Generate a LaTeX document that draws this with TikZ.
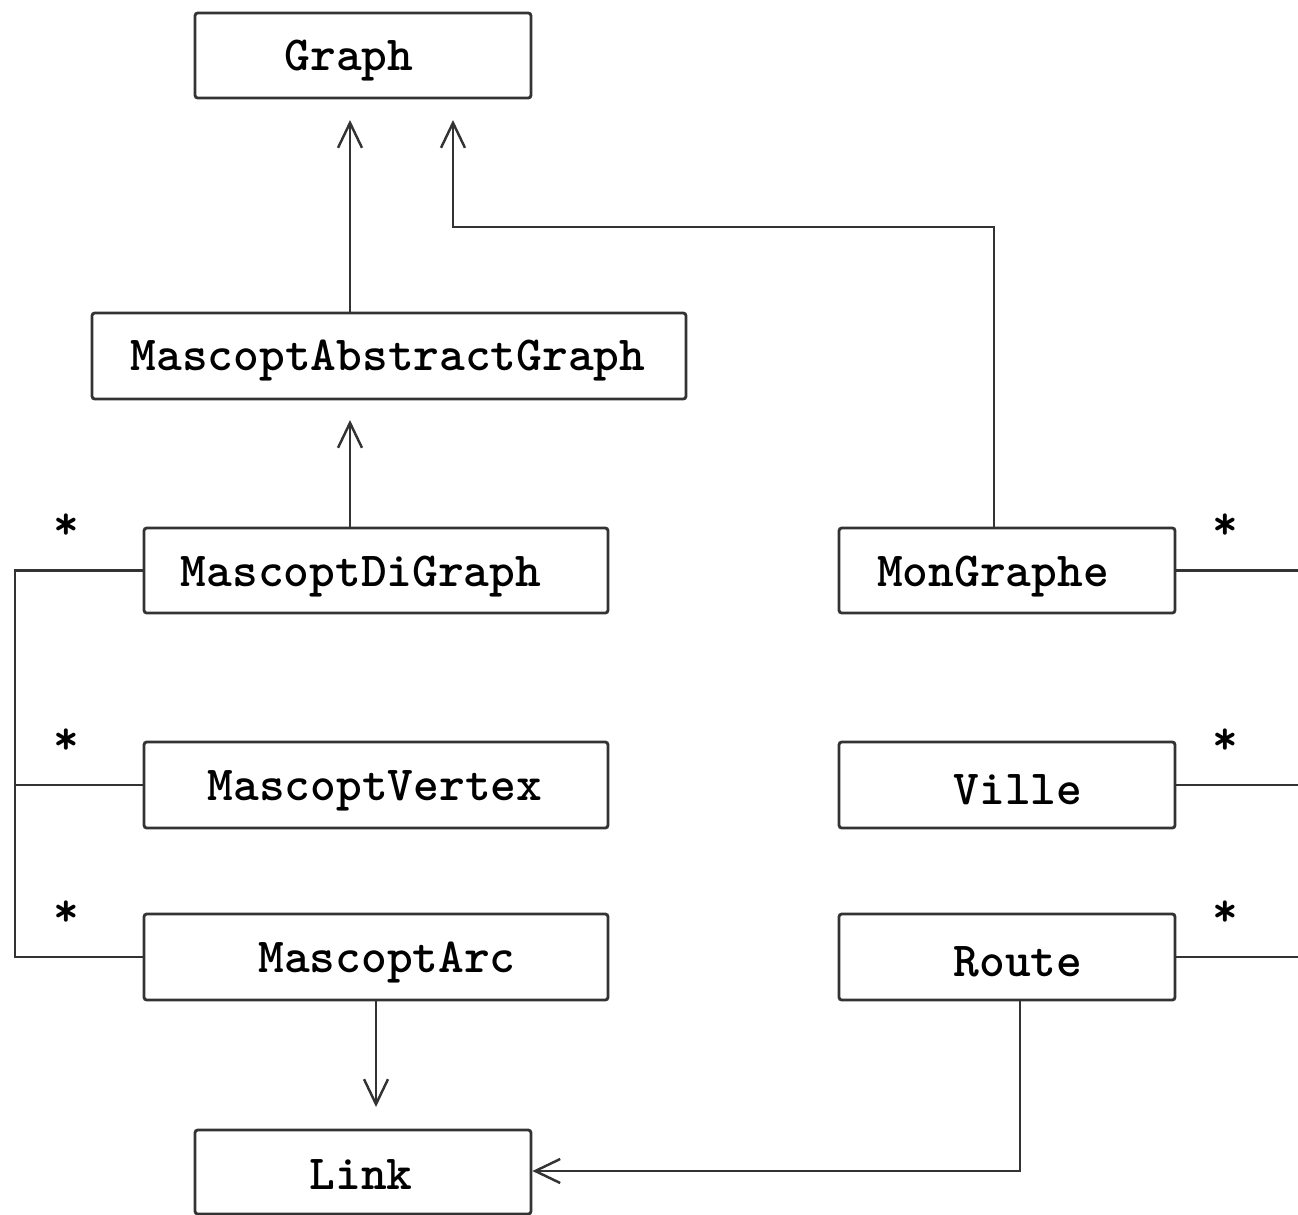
\documentclass[tikz,border=0pt]{standalone}
\usepackage{fontspec}
\usetikzlibrary{arrows.meta}
\begin{document}
\begin{tikzpicture}[x=0.02cm,y=-0.02cm,
  box/.style={draw=black!80, line width=1.6pt, rounded corners=1.5pt, inner sep=0pt, fill=white},
  lbl/.style={font=\fontsize{27.9}{32}\selectfont\ttfamily\bfseries, inner sep=0pt},
  star/.style={font=\fontsize{27.9}{32}\selectfont\ttfamily\bfseries, inner sep=0pt},
  conn/.style={draw=black!80, line width=1.4pt},
  arr/.style={conn, -{Straight Barb[length=0.5cm, width=0.48cm, line width=1.4pt]}}]
\useasboundingbox (0,0) rectangle (1298,1214);
% boxes
\node[box, minimum width=6.72cm, minimum height=1.70cm] (graph) at (363,55.5) {};
\node[box, minimum width=11.88cm, minimum height=1.72cm] (mag) at (389,356) {};
\node[box, minimum width=9.28cm, minimum height=1.70cm] (dig) at (376,570.5) {};
\node[box, minimum width=9.28cm, minimum height=1.72cm] (vert) at (376,785) {};
\node[box, minimum width=9.28cm, minimum height=1.72cm] (arc) at (376,957) {};
\node[box, minimum width=6.72cm, minimum height=1.70cm] (mon) at (1007,570.5) {};
\node[box, minimum width=6.72cm, minimum height=1.72cm] (ville) at (1007,785) {};
\node[box, minimum width=6.72cm, minimum height=1.72cm] (route) at (1007,957) {};
\node[box, minimum width=6.72cm, minimum height=1.68cm] (link) at (363,1172) {};
% labels
\node[lbl] (graphT) at (349,61) {Graph};
\node[lbl] (magT) at (388,361) {MascoptAbstractGraph};
\node[lbl] (digT) at (361,577) {MascoptDiGraph};
\node[lbl] (vertT) at (375,791) {MascoptVertex};
\node[lbl] (arcT) at (387,963) {MascoptArc};
\node[lbl] (monT) at (993,577) {MonGraphe};
\node[lbl] (villeT) at (1018,790) {Ville};
\node[lbl] (routeT) at (1018,962) {Route};
\node[lbl] (linkT) at (361,1175) {Link};
% stars
\node[star] (s1) at (66,527) {*};
\node[star] (s2) at (66,742) {*};
\node[star] (s3) at (66,914) {*};
\node[star] (s4) at (1225,527) {*};
\node[star] (s5) at (1225,742) {*};
\node[star] (s6) at (1225,914) {*};
% inheritance arrows
\coordinate (g1) at (350,120);
\draw[arr] (g1 |- mag.north) -- (g1);
\coordinate (g2) at (453,120);
\coordinate (m1) at (994,227);
\draw[arr] (m1 |- mon.north) -- (m1) -| (g2);
\coordinate (a1) at (350,420);
\draw[arr] (a1 |- dig.north) -- (a1);
% arc -> link
\coordinate (l1) at (376,1107);
\draw[arr] (arc.south) -- (l1);
% route -> link
\coordinate (r1) at (1020,1171);
\draw[arr] (r1 |- route.south) -- (r1) -- (link.east |- r1);
% left bus
\coordinate (b1) at (15,570.5);
\coordinate (b2) at (15,785);
\coordinate (b3) at (15,957);
\draw[conn] (dig.west) -- (b1) -- (b3) -- (arc.west);
\draw[conn] (vert.west) -- (b2);
% right lines
\coordinate (e1) at (1300,570.5);
\coordinate (e2) at (1300,785);
\coordinate (e3) at (1300,957);
\draw[conn] (mon.east) -- (e1);
\draw[conn] (ville.east) -- (e2);
\draw[conn] (route.east) -- (e3);
\end{tikzpicture}
\end{document}
